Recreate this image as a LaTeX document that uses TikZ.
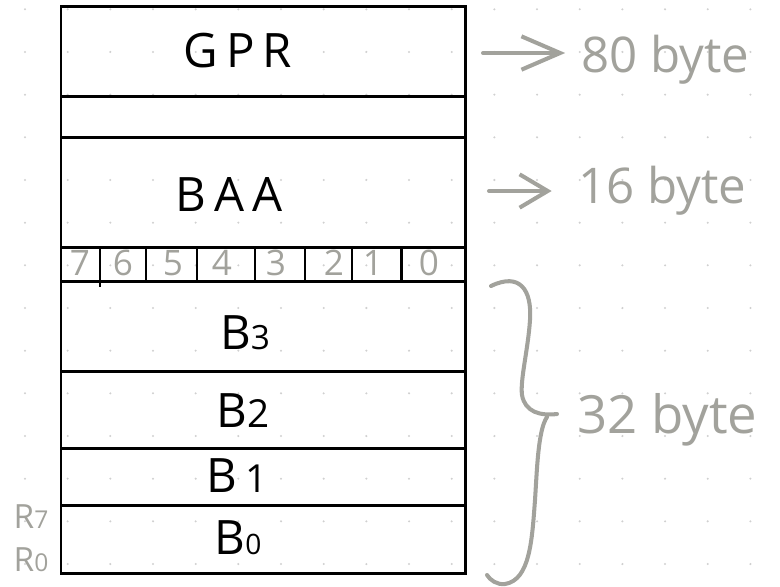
\documentclass[tikz,border=0pt]{standalone}
\usepackage{fontspec}
\setmainfont{Open Sans}
\usetikzlibrary{arrows.meta}
\definecolor{pencil}{RGB}{162,162,156}
\definecolor{griddot}{RGB}{208,208,208}

\begin{document}
\begin{tikzpicture}[x=0.02cm,y=-0.02cm,
    reg/.style={line width=1.7pt},
    field/.style={font=\fontsize{27}{30}\selectfont,inner sep=0pt},
    bit/.style={text=pencil,font=\fontsize{20}{22}\selectfont,inner sep=0pt},
    note/.style={text=pencil,font=\fontsize{28}{30}\selectfont,inner sep=0pt,anchor=base west},
    pen/.style={draw=pencil,line width=2.3pt,line cap=round}]
    \useasboundingbox (0,0) rectangle (780,586);
    % dotted paper
    \foreach \i in {0,...,17}
        \foreach \j in {0,...,13}
            \fill[griddot] (25+42.67*\i,9.3+42.67*\j) circle (0.65pt);

    % register block
    \begin{scope}[reg]
    \draw (61,6) rectangle (465,573);
    \foreach \y in {96,137,247,281,371,448,505}
        \draw (61,\y) -- (465,\y);
    \draw (100,247) -- (100,287);
    \foreach \x in {146,197,255,305,352,401}
        \draw (\x,247) -- (\x,281);
    \end{scope}

    \node[field] (gpr) at (238,51) {G\,P\,R};
    \node[field] (baa) at (229,194) {B\,A\,A};
    \node[field] (b3) at (245,333) {B{\fontsize{19}{20}\selectfont 3}};
    \node[field] (b2) at (243,411) {B{\fontsize{22}{24}\selectfont 2}};
    \node[field] (b1) at (237,476) {B\,{\fontsize{22}{24}\selectfont 1}};
    \node[field] (b0) at (238,538) {B{\fontsize{16}{18}\selectfont 0}};

    % bit numbers
    \foreach \n/\x in {7/80,6/123,5/173,4/222,3/276,2/334,1/373,0/429}
        \node[bit] (bit\n) at (\x,263) {\n};

    % row names on the left
    \node[text=pencil,font=\fontsize{19}{20}\selectfont,inner sep=0pt] (r7) at (31,517)
        {R{\fontsize{14}{15}\selectfont 7}};
    \node[text=pencil,font=\fontsize{19}{20}\selectfont,inner sep=0pt] (r0) at (31,560)
        {R{\fontsize{14}{15}\selectfont 0}};

    % sizes
    \node[note] (n80) at (581,72) {80 byte};
    \node[note] (n16) at (578,203) {16 byte};
    \node[note,font=\fontsize{30}{32}\selectfont] (n32) at (577,433) {32 byte};

    \coordinate (a80) at (483,53);
    \coordinate (a16) at (489,191);
    \draw[pen,-{Straight Barb[length=22pt,width=19pt,line width=2.3pt]}]
        (a80) -- (a80 -| n80.west) [shorten >=9pt];
    \draw[pen,-{Straight Barb[length=16pt,width=19pt,line width=2.3pt]}]
        (a16) -- (a16 -| n16.west) [shorten >=15pt];

    % brace over B0..B3
    \coordinate (brtop) at (491,286);
    \coordinate (brbot) at (487,575);
    \draw[pen] (brtop) .. controls (520,272) and (532,290) .. (530,320)
        .. controls (528,350) and (520,380) .. (522,395)
        .. controls (525,412) and (540,416) .. (557,414);
    \draw[pen] (547,417) .. controls (538,430) and (537,470) .. (535,500)
        .. controls (532,540) and (530,580) .. (505,584)
        .. controls (497,585) and (490,580) .. (brbot);
\end{tikzpicture}
\end{document}
